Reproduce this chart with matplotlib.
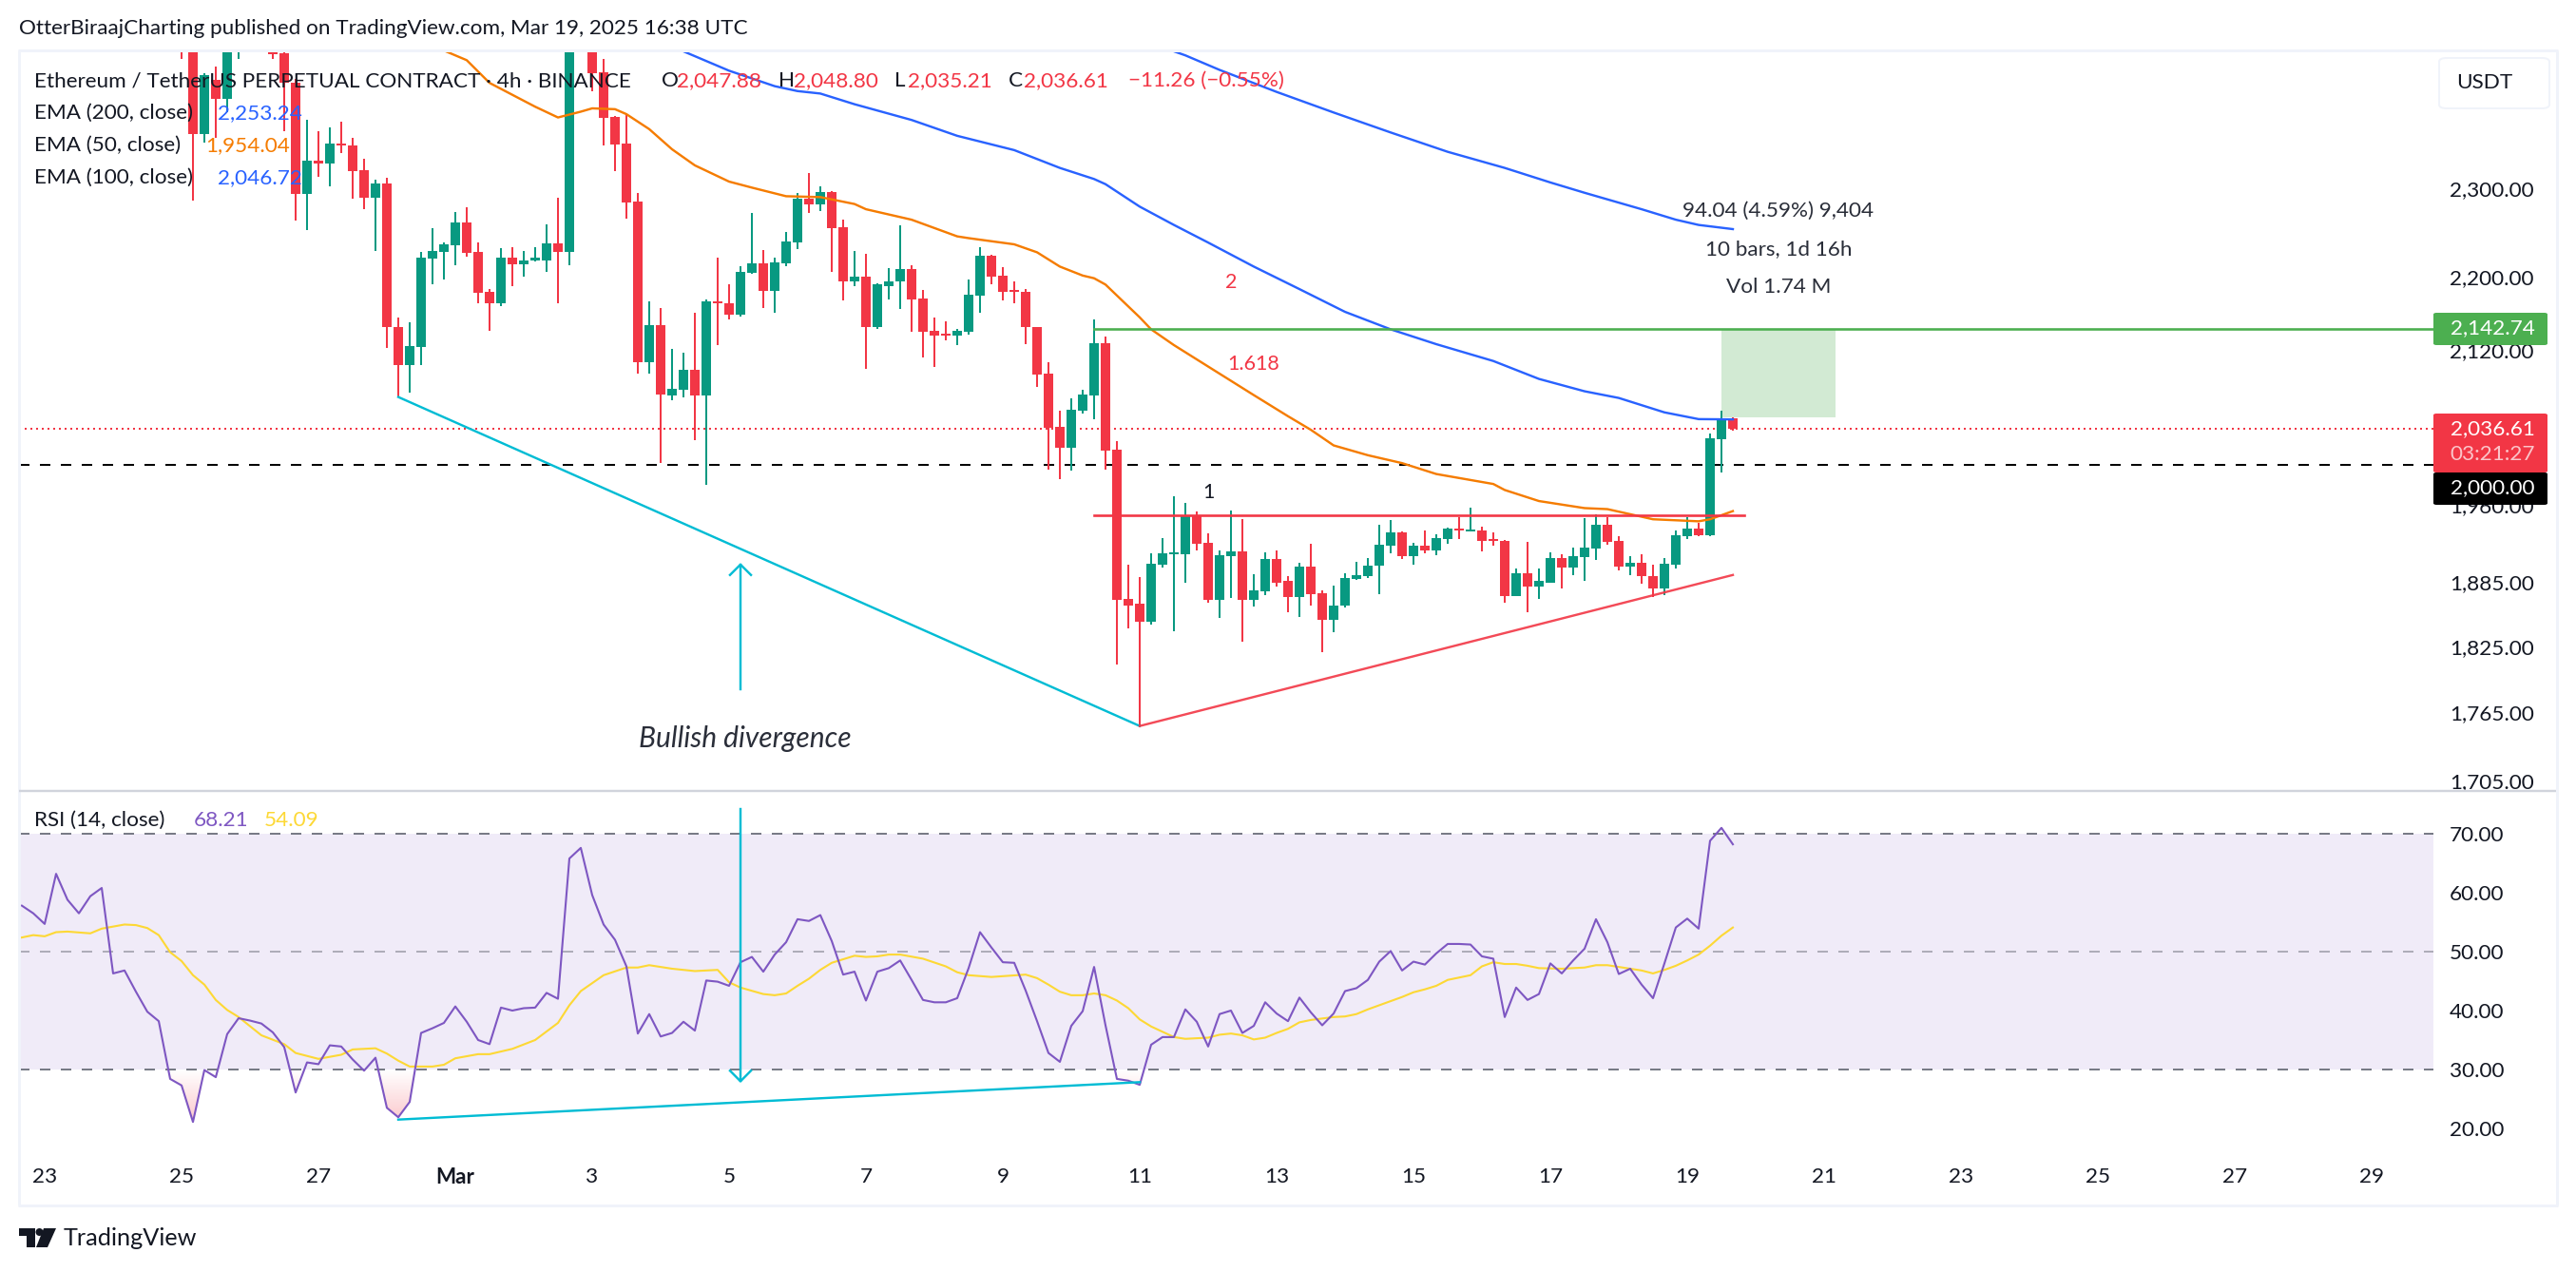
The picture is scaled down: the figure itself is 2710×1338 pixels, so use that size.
import numpy as np
import matplotlib
matplotlib.use("Agg")
import matplotlib.pyplot as plt
from matplotlib.patches import Rectangle, FancyBboxPatch, Polygon, Circle
from matplotlib.lines import Line2D
from matplotlib.path import Path
from matplotlib.ticker import FixedLocator, FixedFormatter, NullLocator

plt.rcParams['font.family'] = ['Lato', 'DejaVu Sans']

# ---------- data: 4h bars, index 0 = 23 Feb 00:00 ----------
first_bar = 12
opens = [2520,2480,2364,2430,2407,2480,2500,2520,2490,2463,
 2426,2294,2333,2329,2353,2350,2321,2289,2306,2145,
 2104,2123,2220,2227,2235,2261,2227,2183,2170,2221,
 2214,2218,2218,2237,2227,2520,2490,2439,2385,2353,
 2285,2107,2147,2072,2078,2099,2072,2172,2170,2158,
 2204,2215,2184,2215,2238,2288,2282,2296,2255,2195,
 2200,2145,2189,2194,2208,2176,2140,2137,2135,2139,
 2179,2223,2201,2185,2183,2144,2095,2039,2018,2056,
 2072,2127,2016,1869,1865,1848,1902,1912,1912,1949,
 1923,1868,1910,1915,1868,1876,1907,1886,1871,1900,
 1875,1850,1863,1888,1891,1901,1920,1933,1910,1920,
 1916,1927,1937,1934,1935,1927,1925,1872,1894,1881,
 1885,1908,1899,1909,1917,1941,1925,1900,1904,1891,
 1879,1902,1929,1937,1930,2026,2047.88]
highs = [2530,2500,2438,2446,2490,2510,2540,2530,2500,2475,
 2431,2381,2368,2372,2379,2360,2335,2310,2312,2155,
 2150,2227,2254,2238,2273,2278,2238,2186,2232,2233,
 2229,2233,2259,2289,2520,2540,2500,2455,2386,2388,
 2295,2172,2165,2121,2117,2160,2175,2221,2191,2211,
 2272,2230,2221,2250,2295,2318,2303,2297,2264,2228,
 2225,2192,2209,2258,2213,2185,2155,2151,2142,2197,
 2233,2224,2210,2195,2186,2144,2107,2056,2069,2078,
 2153,2134,2024,1902,1890,1913,1928,1969,1962,1954,
 1932,1916,1955,1946,1893,1914,1916,1891,1904,1922,
 1877,1882,1894,1905,1908,1941,1945,1934,1923,1935,
 1931,1938,1948,1957,1939,1933,1926,1898,1924,1898,
 1914,1912,1918,1947,1951,1948,1929,1910,1912,1902,
 1908,1935,1948,1942,2032,2056,2048.80]
lows = [2455,2286,2354,2360,2390,2455,2480,2475,2456,2368,
 2263,2252,2314,2302,2341,2288,2276,2229,2122,2070,
 2075,2104,2191,2197,2212,2222,2170,2140,2167,2189,
 2200,2217,2205,2170,2212,2475,2416,2350,2320,2265,
 2095,2095,2002,2067,2070,2025,1980,2125,2153,2156,
 2203,2165,2160,2211,2231,2272,2274,2205,2174,2189,
 2100,2142,2175,2164,2139,2112,2102,2130,2125,2136,
 2160,2191,2174,2170,2126,2081,1995,1986,1994,2053,
 2047,1995,1808,1842,1753,1845,1899,1839,1885,1916,
 1866,1851,1870,1829,1862,1873,1881,1857,1852,1863,
 1820,1838,1861,1887,1889,1874,1913,1907,1902,1913,
 1911,1922,1927,1934,1915,1920,1866,1872,1857,1869,
 1885,1879,1892,1886,1906,1921,1896,1892,1884,1871,
 1873,1898,1927,1929,1929,1993,2035.21]
closes = [2480,2364,2436,2407,2470,2500,2520,2500,2462,2426,
 2294,2333,2329,2353,2350,2320,2289,2306,2145,2104,
 2124,2221,2228,2236,2261,2226,2182,2170,2221,2214,
 2218,2221,2237,2227,2500,2500,2438,2383,2352,2284,
 2107,2147,2073,2079,2099,2072,2173,2170,2158,2205,
 2215,2184,2216,2239,2288,2282,2296,2254,2195,2200,
 2145,2191,2195,2208,2175,2139,2135,2135,2140,2180,
 2223,2200,2183,2183,2144,2094,2038,2018,2057,2073,
 2127,2015,1868,1863,1848,1903,1913,1914,1950,1922,
 1868,1911,1915,1868,1877,1907,1885,1871,1900,1874,
 1850,1863,1889,1892,1901,1921,1933,1910,1920,1916,
 1928,1937,1935,1936,1925,1925,1872,1894,1881,1886,
 1908,1899,1910,1918,1941,1924,1900,1904,1891,1879,
 1903,1930,1937,1930,2027,2047.88,2036.61]

ema50_k = [35,37,39,43,45,47,48,50,51,53,55,57,60,62,65,68,71,72,76,80,81,85,87,89,91,92,93,96,97,99,
           104,106,109,111,113,116,119,122,127,128,131,135,137,141,145,146,147,148]
ema50_v = [2466,2454,2426,2397,2384,2391,2395,2394,2388,2370,2346,2327,2308,2301,2291,2290,2282,2276,2264,2245,
           2243,2236,2227,2211,2201,2198,2191,2155,2142,2125,2087,2072,2050,2036,2020,2010,2002,1991,1981,1975,
           1964,1957,1956,1946,1944,1946,1950,1954.04]
ema100_k = [56,60,64,66,68,71,76,80,85,89,92,93,96,99,102,106,110,114,118,122,127,131,135,138,142,145,148]
ema100_v = [2465,2441,2422,2416,2413,2400,2381,2362,2345,2324,2311,2305,2279,2258,2238,2211,2186,2161,2142,2126,
            2108,2089,2076,2069,2054,2047,2046.72]
ema200_k = [99,100,103,108,113,118,123,128,132,135,140,143,145,148]
ema200_v = [2465,2460,2442,2415,2390,2366,2343,2324,2307,2295,2276,2264,2258,2253.24]

first_rsi_bar = -2
rsi = [57.8,56.5,54.7,63.2,58.8,56.5,59.4,60.8,46.3,46.8,
 43.2,39.8,38.2,28.4,27.3,21.1,29.9,28.7,36.0,38.7,
 38.3,37.8,36.3,33.8,26.1,31.2,30.9,34.1,33.9,31.7,
 29.8,32.0,23.5,21.9,24.5,36.2,37.0,37.9,40.7,38.1,
 35.0,34.3,40.5,40.0,40.4,40.5,43.0,42.0,65.8,67.6,
 59.6,54.6,52.0,47.5,36.1,39.4,35.6,36.2,38.1,36.6,
 45.1,44.9,44.2,48.2,49.1,46.6,49.5,51.6,55.5,55.2,
 56.2,51.8,46.1,46.6,41.7,46.6,47.2,48.5,45.2,41.8,
 41.4,41.4,42.1,47.2,53.3,50.7,48.2,48.1,43.4,38.2,
 32.8,31.3,37.4,39.9,47.4,37.5,28.4,28.1,27.4,34.2,
 35.5,35.5,40.2,38.1,33.9,39.4,40.0,36.2,37.4,41.4,
 39.5,38.2,42.2,39.7,37.5,39.5,43.3,43.8,45.2,48.3,
 50.1,46.8,48.3,47.8,49.7,51.3,51.3,51.2,49.2,48.8,
 38.9,43.9,41.8,42.8,48.0,46.3,48.5,50.5,55.5,51.6,
 46.2,47.1,44.4,42.1,48.0,54.1,55.6,53.9,68.8,71.0,68.21]
rsi_ma_k = [-2,-1,0,1,2,4,5,7,8,9,10,11,12,13,14,15,16,17,19,21,22,24,26,27,29,30,31,32,34,35,36,38,39,41,43,45,46,47,49,
            51,52,53,55,57,59,60,61,63,64,65,66,67,68,69,71,72,73,74,75,77,79,80,81,83,86,87,88,89,90,91,92,93,94,95,96,97,
            99,100,102,103,104,105,106,107,108,109,110,111,113,114,115,116,117,119,120,121,122,123,125,126,127,128,129,130,
            131,133,135,136,137,138,140,141,142,143,144,145,146,147,148]
rsi_ma_v = [52.4,52.8,52.6,53.3,53.4,53.1,53.9,54.6,54.5,54.0,52.8,49.9,48.4,46.0,44.4,41.8,40.1,38.9,35.8,34.3,32.8,31.8,
            32.5,33.4,33.6,32.7,31.5,30.5,30.5,30.8,31.9,32.6,32.6,33.5,35.0,37.9,40.9,43.3,46.0,
            47.3,47.3,47.7,47.1,46.7,46.9,44.8,43.9,42.8,42.6,42.9,44.2,45.4,46.9,48.1,49.3,49.1,49.2,49.5,49.5,48.8,47.5,
            46.5,46.0,45.7,46.1,45.5,44.4,43.2,42.6,42.6,42.9,42.6,41.7,40.4,38.5,37.3,
            35.5,35.2,35.4,35.9,36.1,35.8,35.1,35.4,36.2,36.9,38.0,38.4,38.9,39.0,39.4,40.2,40.9,42.3,43.1,43.6,44.2,45.2,
            46.0,47.5,48.2,47.9,47.9,47.6,47.2,47.1,47.3,47.7,47.7,47.4,46.8,46.3,46.9,47.6,48.5,49.5,51.0,52.7,54.09]

price_ticks = [2300, 2200, 2120, 1960, 1885, 1825, 1765, 1705]
price_labels = ['2,300.00','2,200.00','2,120.00','1,960.00','1,885.00','1,825.00','1,765.00','1,705.00']
rsi_ticks = [70, 60, 50, 40, 30, 20]
rsi_labels = ['70.00','60.00','50.00','40.00','30.00','20.00']
date_ticks = list(range(0, 205, 12))
date_labels = ['23','25','27','Mar','3','5','7','9','11','13','15','17','19','21','23','25','27','29']

last_price = 2036.61
round_level = 2000
target_level = 2142.74
range_bottom = 2048.70
neckline = 1950
fib_text = [(104, 2193, '2', '#f23645'), (106, 2105, '1.618', '#f23645'), (102, 1973, '1', '#131722')]
wedge_k, wedge_p = [31, 96], [2070, 1753]
rise_k, rise_p = [96, 148], [1753, 1892]
rsi_div_k, rsi_div_v = [31, 96], [21.5, 27.85]

GREEN, RED = '#089981', '#f23645'
CYAN, BLUE, ORANGE = '#00bcd4', '#2962ff', '#f57c00'
PURPLE, YELLOW = '#7e57c2', '#fdd835'
INK = '#131722'

# ---------- layout in pixels ----------
W, H = 2710, 1338
PX = 72 / 100  # points per pixel at dpi 100
L, R, T, MID, B = 20, 2560, 54, 832, 1215
fig = plt.figure(figsize=(W / 100, H / 100), dpi=100, facecolor='white')

def axes_px(x0, y0, x1, y1):
    return fig.add_axes([x0 / W, 1 - y1 / H, (x1 - x0) / W, (y1 - y0) / H])

ax = axes_px(L, T, R, MID)
ar = axes_px(L, MID, R, B)
xlim = ((L - 47) / 12, (R - 47) / 12)

for a in (ax, ar):
    a.set_xlim(*xlim)
    for s in a.spines.values():
        s.set_visible(False)
    a.yaxis.tick_right()
    a.set_facecolor('none')

# ---------- price pane ----------
ax.set_yscale('log')
ax.set_ylim(1696.4, 2465)
ax.yaxis.set_major_locator(FixedLocator(price_ticks))
ax.yaxis.set_major_formatter(FixedFormatter(price_labels))
ax.yaxis.set_minor_locator(NullLocator())
ax.tick_params(axis='y', which='major', length=0, pad=17 * PX, labelsize=16.2, labelcolor=INK)
ax.set_xticks([])

o, h, l, c = map(np.array, (opens, highs, lows, closes))
bars = np.arange(first_bar, first_bar + len(o))
cols = np.where(c >= o, GREEN, RED)
ax.vlines(bars, l, h, colors=cols, lw=2 * PX, zorder=2)
ax.bar(bars, np.abs(c - o), bottom=np.minimum(o, c), width=0.82, color=cols, linewidth=0, zorder=2.1)

ax.plot(ema200_k, ema200_v, color=BLUE, lw=2.4 * PX, zorder=3)
ax.plot(ema100_k, ema100_v, color=BLUE, lw=2.4 * PX, zorder=3)
ax.plot(ema50_k, ema50_v, color=ORANGE, lw=2.4 * PX, zorder=3)

ax.axhline(last_price, color=RED, lw=2 * PX, dashes=(1, 2), zorder=1.5)
ax.axhline(round_level, color='black', lw=2 * PX, dashes=(5.5, 5.5), zorder=1.5)

ax.plot(wedge_k, wedge_p, color=CYAN, lw=2.4 * PX, zorder=3)
ax.plot(rise_k, rise_p, color=RED, lw=2.4 * PX, alpha=.9, zorder=3)
ax.plot([92, 149], [neckline, neckline], color=RED, lw=2.6 * PX, zorder=3)
ax.plot([92, xlim[1]], [target_level, target_level], color='#4caf50', lw=2.6 * PX, zorder=3)
ax.fill_between([147, 157], range_bottom, target_level, color='#4caf50', alpha=.25, lw=0, zorder=1)

# up arrow in the price pane
ax.plot([61, 61], [1786, 1902], color=CYAN, lw=2.4 * PX, zorder=3)
ax.plot([60.08, 61, 61.92], [1892, 1902, 1892], color=CYAN, lw=2.4 * PX, zorder=3)

for fx, fy, s, col in fib_text:
    ax.text(fx, fy, s, color=col, fontsize=15.5, ha='center', va='center', zorder=4)

# ---------- RSI pane ----------
ar.set_ylim(15.48, 77.26)
ar.set_yticks(rsi_ticks)
ar.set_yticklabels(rsi_labels)
ar.tick_params(axis='y', length=0, pad=17 * PX, labelsize=16.2, labelcolor=INK)
ar.set_xticks(date_ticks)
ar.set_xticklabels(date_labels)
ar.tick_params(axis='x', length=0, pad=13 * PX, labelsize=16.2, labelcolor=INK)
for lab, s in zip(ar.get_xticklabels(), date_labels):
    if s == 'Mar':
        lab.set_fontweight('bold')

ar.axhspan(30, 70, color=PURPLE, alpha=.115, lw=0, zorder=1)
ar.axhline(70, color='#787b86', lw=2 * PX, dashes=(5.5, 5.5), zorder=1.5)
ar.axhline(50, color='#787b86', lw=2 * PX, alpha=.55, dashes=(5.5, 5.5), zorder=1.5)
ar.axhline(30, color='#787b86', lw=2 * PX, dashes=(5.5, 5.5), zorder=1.5)

rb = np.arange(first_rsi_bar, first_rsi_bar + len(rsi))
rv = np.array(rsi)
polys = ar.fill_between(rb, rv, 30, where=rv < 30, interpolate=True, color='none', lw=0)
grad = np.linspace(0, 1, 64).reshape(-1, 1)
rgba = np.zeros((64, 1, 4))
rgba[..., :3] = matplotlib.colors.to_rgb(RED)
rgba[..., 3] = (grad * 0.28)
im = ar.imshow(rgba, extent=(xlim[0], xlim[1], 30, 21), origin='upper', aspect='auto', zorder=1.2)
im.set_extent((xlim[0], xlim[1], 21, 30))
im.set_clip_path(Path.make_compound_path(*polys.get_paths()), transform=ar.transData)
ar.set_xlim(*xlim)
ar.set_ylim(15.48, 77.26)

ar.plot(rb, rv, color=PURPLE, lw=2.1 * PX, zorder=3)
ar.plot(rsi_ma_k, rsi_ma_v, color=YELLOW, lw=2.1 * PX, zorder=2.8)
ar.plot(rsi_div_k, rsi_div_v, color=CYAN, lw=2.4 * PX, zorder=3)
ar.plot([61, 61], [74.2, 28.0], color=CYAN, lw=2.4 * PX, zorder=3)
ar.plot([60.08, 61, 61.92], [29.8, 28.0, 29.8], color=CYAN, lw=2.4 * PX, zorder=3)

# ---------- texts and frame, in pixels ----------
def t(x, y, s, col=INK, size=16.2, ha='left', **kw):
    return fig.text(x / W, 1 - y / H, s, color=col, fontsize=size, ha=ha, va='center', zorder=10, **kw)

def hline(x0, x1, y, col, w):
    fig.add_artist(Line2D([x0 / W, x1 / W], [1 - y / H, 1 - y / H], color=col, lw=w * PX, zorder=6,
                          solid_capstyle='butt'))

def vline(x, y0, y1, col, w):
    fig.add_artist(Line2D([x / W, x / W], [1 - y0 / H, 1 - y1 / H], color=col, lw=w * PX, zorder=6,
                          solid_capstyle='butt'))

def box(x0, y0, x1, y1, col, z=8):
    fig.add_artist(FancyBboxPatch((x0 / W, 1 - y1 / H), (x1 - x0) / W, (y1 - y0) / H,
                                  boxstyle='round,pad=0,rounding_size=0.0012', transform=fig.transFigure,
                                  facecolor=col, edgecolor='none', zorder=z))

hline(19, 2691, 53, '#f0f3fa', 3)
hline(19, 2691, 1268, '#f0f3fa', 3)
vline(20, 53, 1268, '#f0f3fa', 3)
vline(2689.5, 53, 1268, '#f0f3fa', 3)
hline(20, 2689, 832, '#d1d4dc', 2.4)

t(20, 30, 'OtterBiraajCharting published on TradingView.com, Mar 19, 2025 16:38 UTC')
t(36, 85, 'Ethereum / TetherUS PERPETUAL CONTRACT · 4h · BINANCE')
t(36, 119, 'EMA (200, close)')
t(36, 153, 'EMA (50, close)')
t(36, 187, 'EMA (100, close)')
t(228.6, 119, '2,253.24', BLUE)
t(216.5, 153, '1,954.04', ORANGE)
t(228.6, 187, '2,046.72', BLUE)
t(696, 85, 'O')
t(712, 85, '2,047.88', RED)
t(819, 85, 'H')
t(835, 85, '2,048.80', RED)
t(941, 85, 'L')
t(955, 85, '2,035.21', RED)
t(1061, 85, 'C')
t(1077, 85, '2,036.61', RED)
t(1187, 85, '−11.26 (−0.55%)', RED)

t(36, 863, 'RSI (14, close)')
t(203.6, 863, '68.21', PURPLE)
t(277.7, 863, '54.09', YELLOW)

t(784, 777, 'Bullish divergence', '#2a2e39', 21.6, ha='center', style='italic')
t(1871, 222, '94.04 (4.59%) 9,404', '#2a2e39', ha='center')
t(1871, 262, '10 bars, 1d 16h', '#2a2e39', ha='center')
t(1871, 302, 'Vol 1.74 M', '#2a2e39', ha='center')

# USDT button
fig.add_artist(FancyBboxPatch((2566 / W, 1 - 114 / H), 116 / W, 53 / H,
                              boxstyle='round,pad=0,rounding_size=0.003', transform=fig.transFigure,
                              facecolor='white', edgecolor='#f0f3fa', lw=2 * PX, zorder=8))
t(2584, 87, 'USDT')

# price labels
box(2560, 329, 2680, 363, '#4caf50')
t(2622.5, 345, '2,142.74', 'white', ha='center')
box(2560, 435, 2680, 497, RED)
t(2622.5, 451.5, '2,036.61', 'white', ha='center')
t(2622.5, 478, '03:21:27', '#fbc4c9', ha='center')
box(2560, 497, 2680, 531, 'black', z=9)
t(2622.5, 513, '2,000.00', 'white', ha='center')

# TradingView logo and name
logo_parts = [[(20, 1292), (37, 1292), (37, 1312), (28, 1312), (28, 1300), (20, 1300)],
              [(46, 1292), (59, 1292), (50, 1312), (38, 1312)]]
for pts in logo_parts:
    fig.add_artist(Polygon([(x / W, 1 - y / H) for x, y in pts], closed=True, transform=fig.transFigure,
                           facecolor='#131722', edgecolor='none', zorder=8))
fig.add_artist(matplotlib.patches.Ellipse((41.5 / W, 1 - 296 / H - 1000 / H), 8 / W, 8 / H, transform=fig.transFigure,
                                          facecolor='#131722', edgecolor='none', zorder=8))
t(67, 1303, 'TradingView', INK, 18.2)

fig.savefig('out.png', dpi=100, facecolor='white')
